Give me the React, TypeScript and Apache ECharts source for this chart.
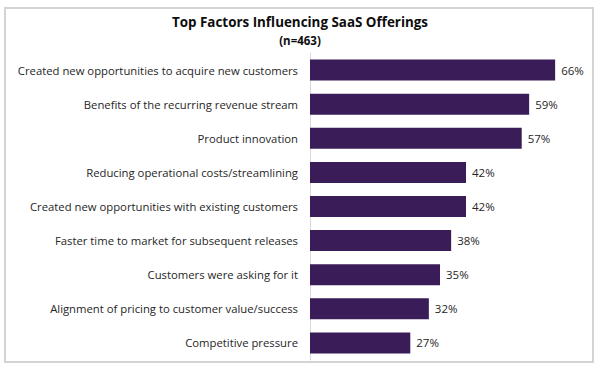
import React, { useEffect, useRef } from "react";
import * as echarts from "echarts";

const categories = [
  "Created new opportunities to acquire new customers",
  "Benefits of the recurring revenue stream",
  "Product innovation",
  "Reducing operational costs/streamlining",
  "Created new opportunities with existing customers",
  "Faster time to market for subsequent releases",
  "Customers were asking for it",
  "Alignment of pricing to customer value/success",
  "Competitive pressure",
];
const values = [66, 59, 57, 42, 42, 38, 35, 32, 27];
const titleText = "Top Factors Influencing SaaS Offerings";
const subtitleText = "(n=463)";

const FONT = "'Open Sans', 'Noto Sans', sans-serif";

export default function App() {
  const ref = useRef<HTMLDivElement>(null);
  useEffect(() => {
    document.body.style.margin = "0";
    const chart = echarts.init(ref.current!, null, { renderer: "svg" });
    chart.setOption({
      animation: false,
      backgroundColor: "#ffffff",
      graphic: [
        {
          type: "rect",
          shape: { x: 5, y: 8, width: 588, height: 354 },
          style: { fill: "none", stroke: "#d4d4d4", lineWidth: 2 },
          silent: true,
          z: 0,
        },
        {
          type: "text",
          x: 300,
          y: 22,
          style: {
            text: titleText,
            textAlign: "center",
            textVerticalAlign: "middle",
            fontFamily: FONT,
            fontSize: 13.4,
            fontWeight: "bold",
            fill: "#0d0d0d",
          },
        },
        {
          type: "text",
          x: 300,
          y: 40,
          style: {
            text: subtitleText,
            textAlign: "center",
            textVerticalAlign: "middle",
            fontFamily: FONT,
            fontSize: 11.5,
            fontWeight: "bold",
            fill: "#0d0d0d",
          },
        },
      ],
      grid: { left: 310, top: 53, width: 260, height: 307, containLabel: false },
      xAxis: {
        type: "value",
        min: 0,
        max: 70,
        show: false,
      },
      yAxis: {
        type: "category",
        inverse: true,
        data: categories,
        axisLine: { show: true, lineStyle: { color: "#d9d9d9", width: 1 } },
        axisTick: { show: false },
        axisLabel: { fontFamily: FONT, fontSize: 11.3, color: "#262626", margin: 12 },
      },
      series: [
        {
          type: "bar",
          data: values,
          barWidth: 21,
          itemStyle: { color: "#3a1c58" },
          label: {
            show: true,
            position: "right",
            distance: 6,
            formatter: "{c}%",
            fontFamily: FONT,
            fontSize: 11.5,
            color: "#262626",
          },
        },
      ],
    });
    return () => chart.dispose();
  }, []);
  return <div ref={ref} style={{ position: "fixed", left: 0, top: 0, width: 599, height: 368 }} />;
}
